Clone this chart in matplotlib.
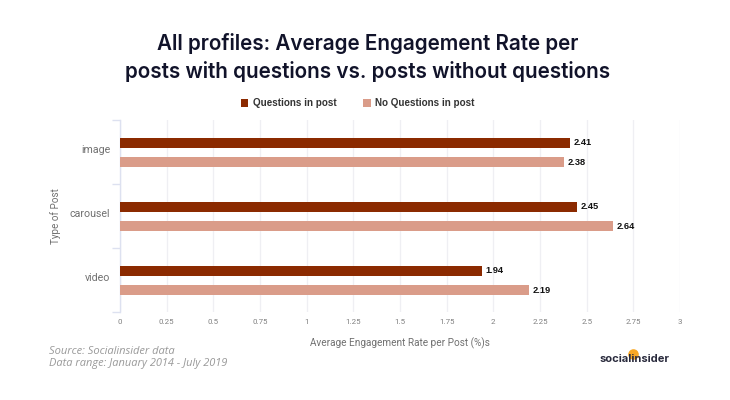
import matplotlib
matplotlib.use("Agg")
import matplotlib.pyplot as plt
from matplotlib.patches import Circle, Rectangle
from matplotlib.transforms import ScaledTranslation

categories = ["image", "carousel", "video"]
questions = [2.41, 2.45, 1.94]
no_questions = [2.38, 2.64, 2.19]
x_ticks = [0, 0.25, 0.5, 0.75, 1, 1.25, 1.5, 1.75, 2, 2.25, 2.5, 2.75, 3]
x_labels = ["0", "0.25", "0.5", "0.75", "1", "1.25", "1.5", "1.75", "2", "2.25", "2.5", "2.75", "3"]
series_names = ["Questions in post", "No Questions in post"]
title_lines = ["All profiles: Average Engagement Rate per", "posts with questions vs. posts without questions"]
DARK, LIGHT = "#8B2A00", "#DA9C89"
W, H = 730, 400

fig = plt.figure(figsize=(W / 100, H / 100), dpi=100, facecolor="white")
ax = fig.add_axes([120 / W, 1 - 312 / H, 560 / W, 192 / H])
ax.set_xlim(0, 3)
ax.set_ylim(2.5, -0.5)
h = 9.3 / 64
off = 9.6 / 64
ypos = list(range(len(categories)))
shift = 0.008
ax.barh([y - off + shift for y in ypos], questions, height=h, color=DARK, zorder=3)
ax.barh([y + off + shift for y in ypos], no_questions, height=h, color=LIGHT, zorder=3)
for y, a, b in zip(ypos, questions, no_questions):
    ax.text(a + 0.018, y - off + shift, f"{a:.2f}", va="center", ha="left", fontsize=6.7, fontweight="bold",
            family="Liberation Sans", color="#111111", zorder=4)
    ax.text(b + 0.018, y + off + shift, f"{b:.2f}", va="center", ha="left", fontsize=6.7, fontweight="bold",
            family="Liberation Sans", color="#111111", zorder=4)

for s in ["top", "right", "bottom"]:
    ax.spines[s].set_visible(False)
ax.spines["left"].set_color("#DDE1F0")
ax.spines["left"].set_linewidth(1)
ax.set_xticks(x_ticks)
ax.set_xticklabels(x_labels, fontsize=5.7, color="#808080", family="Roboto")
ax.tick_params(axis="x", length=0, pad=5)
ax.grid(axis="x", color="#EFEFF3", linewidth=0.9, zorder=0)
ax.set_axisbelow(True)
ax.set_yticks(ypos)
ax.set_yticklabels(categories, fontsize=7.7, color="#707070", family="Roboto")
ax.tick_params(axis="y", length=0, pad=10)
up = ScaledTranslation(3 / 72, 2.2 / 72, fig.dpi_scale_trans)
for lab in ax.get_yticklabels():
    lab.set_transform(lab.get_transform() + up)
ax.set_yticks([-0.5, 0.5, 1.5, 2.5], minor=True)
ax.tick_params(axis="y", which="minor", length=6, color="#DDE1F0", width=1)

fig.text(400 / W, 1 - 343 / H, "Average Engagement Rate per Post (%)s", ha="center", va="center",
         fontsize=7.2, color="#707070", family="Roboto")
fig.text(56 / W, 1 - 216 / H, "Type of Post", rotation=90, ha="center", va="center",
         fontsize=7.1, color="#707070", family="Roboto")

for i, line in enumerate(title_lines):
    fig.text(367.5 / W, 1 - (44 + 27 * i) / H, line, ha="center", va="center", fontsize=14.85,
             fontweight="semibold", family="Inter", color="#11132A")

for x0, name, c in [(241, series_names[0], DARK), (363, series_names[1], LIGHT)]:
    fig.add_artist(Rectangle((x0 / W, 1 - 106.5 / H), 7.5 / W, 7.5 / H, transform=fig.transFigure,
                             facecolor=c, edgecolor="none"))
    fig.text((x0 + 12.3) / W, 1 - 102.5 / H, name, ha="left", va="center", fontsize=7.1,
             fontweight="bold", family="Liberation Sans", color="#333333")

fig.text(49 / W, 1 - 351 / H, "Source: Socialinsider data", ha="left", va="center", fontsize=8,
         style="italic", family="Open Sans", color="#999999")
fig.text(49 / W, 1 - 363.5 / H, "Data range: January 2014 - July 2019", ha="left", va="center", fontsize=7.9,
         style="italic", family="Open Sans", color="#999999")

logo_ax = fig.add_axes([0, 0, 1, 1], facecolor="none")
logo_ax.set_xlim(0, W)
logo_ax.set_ylim(H, 0)
logo_ax.axis("off")
logo_ax.add_patch(Circle((633.5, 354.5), 5.3, facecolor="#F9A825", edgecolor="none"))
logo_ax.text(635, 359, "socialinsider", ha="center", va="center", fontsize=8,
             fontweight="bold", family="Inter", color="#2A2B3D")
fig.savefig("out.png", dpi=100, facecolor="white")
